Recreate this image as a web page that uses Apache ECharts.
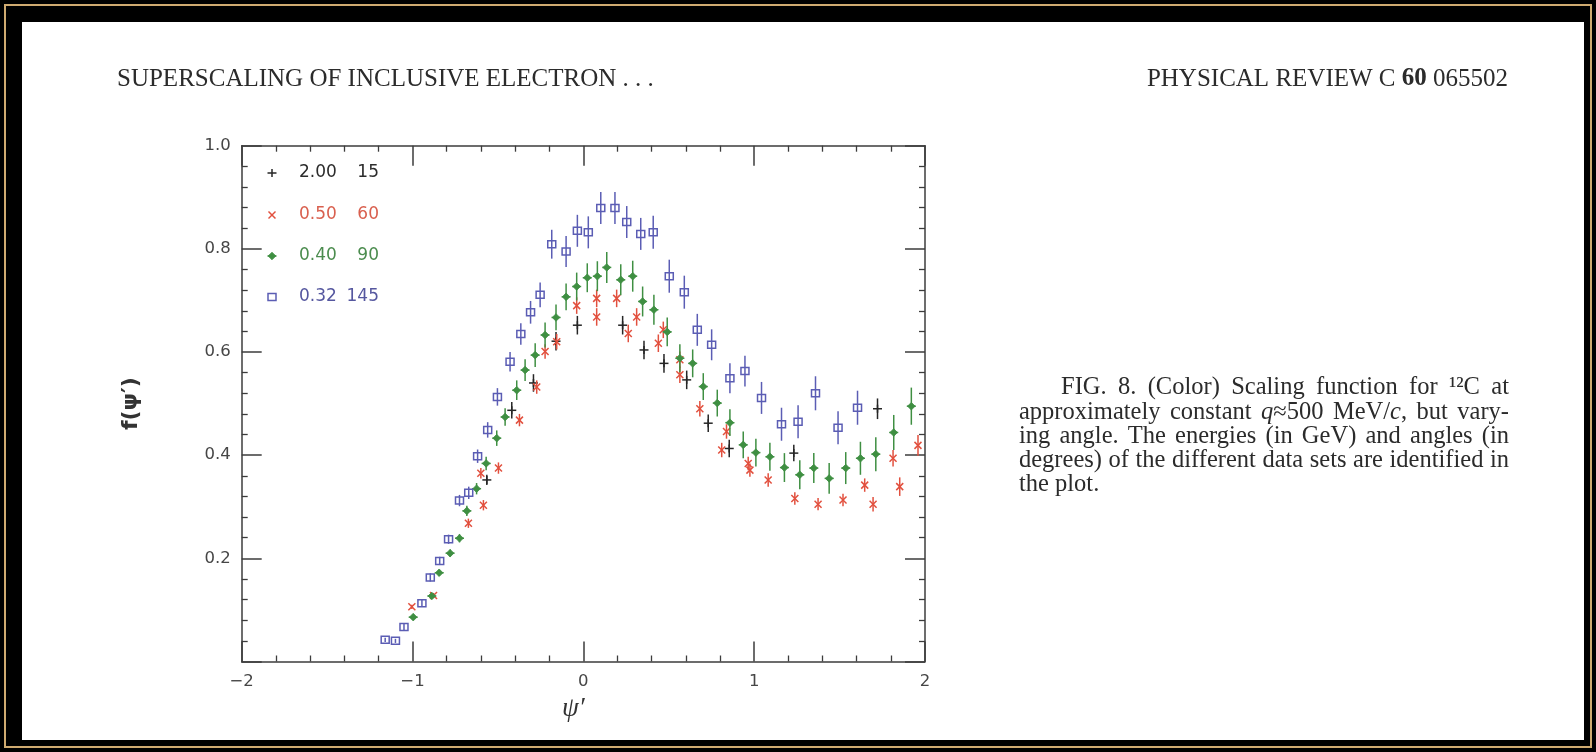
<!DOCTYPE html>
<html>
<head>
<meta charset="utf-8">
<script src="https://cdn.jsdelivr.net/npm/echarts@6/dist/echarts.min.js"></script>
<style>
  html, body { margin: 0; padding: 0; background: #000; }
  #chart { width: 1596px; height: 752px; }
</style>
</head>
<body>
<div id="chart"></div>
<script>
// ---- data sets: psi' (x), f(psi') (y), error half-width (err) ----
// 2.00 GeV, 15 deg
const blackX = [-0.565, -0.419, -0.292, -0.160, -0.035, 0.230, 0.355, 0.472, 0.605, 0.731, 0.854, 1.232, 1.722];
const blackY = [0.352, 0.487, 0.540, 0.621, 0.652, 0.652, 0.604, 0.578, 0.546, 0.462, 0.413, 0.404, 0.490];
const blackErr = [0.010, 0.016, 0.017, 0.018, 0.018, 0.018, 0.018, 0.018, 0.018, 0.017, 0.017, 0.016, 0.020];

// 0.50 GeV, 60 deg
const redX = [-1.004, -0.877, -0.673, -0.600, -0.585, -0.497, -0.374, -0.273, -0.224, -0.156,
              -0.039, 0.078, 0.078, 0.195, 0.263, 0.312, 0.439, 0.468, 0.565, 0.565,
              0.682, 0.810, 0.838, 0.965, 0.975, 1.082, 1.238, 1.374, 1.520, 1.647,
              1.696, 1.813, 1.852, 1.959];
const redY = [0.106, 0.128, 0.268, 0.365, 0.303, 0.375, 0.468, 0.532, 0.601, 0.620,
              0.690, 0.704, 0.668, 0.704, 0.636, 0.668, 0.617, 0.643, 0.585, 0.556,
              0.490, 0.410, 0.446, 0.384, 0.371, 0.352, 0.316, 0.305, 0.313, 0.342,
              0.305, 0.394, 0.339, 0.419];
const redErr = [0.004, 0.005, 0.009, 0.010, 0.010, 0.011, 0.012, 0.013, 0.014, 0.015,
                0.016, 0.017, 0.017, 0.017, 0.017, 0.017, 0.017, 0.016, 0.016, 0.016,
                0.015, 0.014, 0.014, 0.013, 0.013, 0.013, 0.012, 0.012, 0.012, 0.013,
                0.014, 0.016, 0.018, 0.020];

// 0.40 GeV, 90 deg
const greenX = [-0.996, -0.887, -0.844, -0.780, -0.725, -0.682, -0.625, -0.569, -0.507, -0.458,
                -0.390, -0.341, -0.282, -0.224, -0.160, -0.101, -0.039, 0.023, 0.082, 0.137,
                0.219, 0.289, 0.347, 0.413, 0.491, 0.565, 0.640, 0.702, 0.784, 0.858,
                0.936, 1.010, 1.092, 1.177, 1.267, 1.349, 1.439, 1.536, 1.622, 1.712,
                1.817, 1.920];
const greenY = [0.086, 0.127, 0.172, 0.210, 0.239, 0.292, 0.335, 0.384, 0.433, 0.474,
                0.526, 0.565, 0.594, 0.633, 0.667, 0.707, 0.727, 0.744, 0.747, 0.764,
                0.740, 0.747, 0.698, 0.682, 0.639, 0.588, 0.578, 0.533, 0.501, 0.463,
                0.420, 0.405, 0.397, 0.376, 0.362, 0.375, 0.355, 0.375, 0.394, 0.402,
                0.444, 0.495];
const greenErr = [0.004, 0.005, 0.006, 0.007, 0.008, 0.010, 0.011, 0.013, 0.015, 0.017,
                  0.019, 0.021, 0.023, 0.024, 0.025, 0.026, 0.027, 0.028, 0.029, 0.030,
                  0.030, 0.030, 0.029, 0.029, 0.028, 0.027, 0.027, 0.026, 0.026, 0.026,
                  0.026, 0.027, 0.027, 0.028, 0.028, 0.029, 0.030, 0.031, 0.032, 0.033,
                  0.034, 0.036];

// 0.32 GeV, 145 deg
const blueX = [-1.160, -1.100, -1.050, -0.945, -0.896, -0.841, -0.789, -0.725, -0.671, -0.619,
               -0.560, -0.503, -0.429, -0.366, -0.309, -0.253, -0.185, -0.101, -0.035, 0.029,
               0.102, 0.185, 0.254, 0.336, 0.409, 0.503, 0.591, 0.667, 0.751, 0.858,
               0.946, 1.043, 1.160, 1.257, 1.359, 1.491, 1.605];
const blueY = [0.042, 0.040, 0.067, 0.113, 0.163, 0.195, 0.237, 0.312, 0.327, 0.398,
               0.449, 0.513, 0.581, 0.635, 0.677, 0.711, 0.809, 0.795, 0.835, 0.832,
               0.879, 0.879, 0.852, 0.829, 0.832, 0.747, 0.716, 0.643, 0.614, 0.549,
               0.563, 0.511, 0.460, 0.465, 0.520, 0.453, 0.492];
const blueErr = [0.004, 0.004, 0.006, 0.007, 0.008, 0.008, 0.009, 0.011, 0.012, 0.013,
                 0.015, 0.017, 0.019, 0.021, 0.022, 0.024, 0.028, 0.030, 0.031, 0.031,
                 0.031, 0.031, 0.031, 0.031, 0.032, 0.032, 0.032, 0.031, 0.030, 0.029,
                 0.030, 0.031, 0.032, 0.032, 0.033, 0.032, 0.033];

// legend columns: beam energy (GeV) and scattering angle (deg)
const legendEnergies = ['2.00', '0.50', '0.40', '0.32'];
const legendAngles = ['15', '60', '90', '145'];

// tick labels
const xTickLabels = { '-2': '\u22122', '-1': '\u22121', '0': '0', '1': '1', '2': '2' };
const yTickLabels = { '0.2': '0.2', '0.4': '0.4', '0.6': '0.6', '0.8': '0.8', '1': '1.0' };

// ---- styling ----
const COLORS = ['#262626', '#e2503e', '#3f8f42', '#5b5db4'];
const LEGEND_TEXT = ['#2c2c2c', '#d9604f', '#4b8c4e', '#55579f'];
const SHAPES = ['plus', 'cross', 'diamond', 'square'];
const AXIS_COLOR = '#3c3c3c';
const LW = 1.5;

function markerElements(shape, cx, cy, color) {
  const s = { stroke: color, lineWidth: LW, fill: null };
  if (shape === 'plus') {
    return [{ type: 'line', shape: { x1: cx - 4.5, y1: cy, x2: cx + 4.5, y2: cy }, style: s },
            { type: 'line', shape: { x1: cx, y1: cy - 4, x2: cx, y2: cy + 4 }, style: s }];
  }
  if (shape === 'cross') {
    return [{ type: 'line', shape: { x1: cx - 3.5, y1: cy - 3.5, x2: cx + 3.5, y2: cy + 3.5 }, style: s },
            { type: 'line', shape: { x1: cx - 3.5, y1: cy + 3.5, x2: cx + 3.5, y2: cy - 3.5 }, style: s }];
  }
  if (shape === 'diamond') {
    return [{ type: 'polygon', shape: { points: [[cx, cy - 3.8], [cx + 3.8, cy], [cx, cy + 3.8], [cx - 3.8, cy]] },
              style: { fill: color, stroke: color, lineWidth: 0.8 } },
            { type: 'line', shape: { x1: cx - 4.5, y1: cy, x2: cx + 4.5, y2: cy }, style: s }];
  }
  return [{ type: 'rect', shape: { x: cx - 4, y: cy - 3.5, width: 8, height: 7 }, style: s }];
}

function errorSeries(name, xs, ys, errs, idx) {
  const color = COLORS[idx], shape = SHAPES[idx];
  return {
    type: 'custom',
    name: name,
    xAxisIndex: 0,
    yAxisIndex: 0,
    z: 3 + idx,
    dimensions: ['x', 'y', 'err'],
    encode: { x: 0, y: 1 },
    data: xs.map((x, i) => [x, ys[i], errs[i]]),
    renderItem: function (params, api) {
      const x = api.value(0), y = api.value(1), e = api.value(2);
      const c = api.coord([x, y]);
      const top = api.coord([x, y + e]);
      const bot = api.coord([x, y - e]);
      const children = [{
        type: 'line',
        shape: { x1: c[0], y1: top[1], x2: c[0], y2: bot[1] },
        style: { stroke: color, lineWidth: LW }
      }].concat(markerElements(shape, c[0], c[1], color));
      return { type: 'group', children: children };
    }
  };
}

// ---- page texts ----
const SERIF = '"Liberation Serif", "Times New Roman", serif';
const TEXT_COLOR = '#2b2b2b';
const HEAD_SIZE = 25;
const CAP_SIZE = 24.5;
const CAP_LEFT = 1019, CAP_RIGHT = 1509, CAP_INDENT = 42;
const CAP_ROWS = [388, 412.5, 437, 461, 485];
const captionLines = [
  ['FIG.', '8.', '(Color)', 'Scaling', 'function', 'for', '\u00b9\u00b2C', 'at'],
  ['approximately', 'constant', '{i|q}\u2248500', 'MeV/{i|c},', 'but', 'vary-'],
  ['ing', 'angle.', 'The', 'energies', '(in', 'GeV)', 'and', 'angles', '(in'],
  ['degrees)', 'of', 'the', 'different', 'data', 'sets', 'are', 'identified', 'in'],
  ['the', 'plot.']
];

const measureCtx = document.createElement('canvas').getContext('2d');
function wordWidth(word) {
  let w = 0;
  word.split(/(\{i\|[^}]*\})/).forEach(p => {
    if (!p) return;
    const m = p.match(/^\{i\|([^}]*)\}$/);
    measureCtx.font = (m ? 'italic ' : '') + CAP_SIZE + 'px ' + SERIF;
    w += measureCtx.measureText(m ? m[1] : p).width;
  });
  return w;
}

// justified caption: words spread between the column edges, last line ragged
function captionGraphics() {
  const out = [];
  measureCtx.font = CAP_SIZE + 'px ' + SERIF;
  const spaceW = measureCtx.measureText(' ').width;
  captionLines.forEach((words, li) => {
    const left = CAP_LEFT + (li === 0 ? CAP_INDENT : 0);
    const widths = words.map(wordWidth);
    const total = widths.reduce((a, b) => a + b, 0);
    const last = li === captionLines.length - 1;
    const gap = last ? spaceW : (CAP_RIGHT - left - total) / (words.length - 1);
    let x = left;
    words.forEach((w, wi) => {
      out.push({
        type: 'text', x: x, y: CAP_ROWS[li], z: 10,
        style: {
          text: w, fill: TEXT_COLOR, font: CAP_SIZE + 'px ' + SERIF,
          align: 'left', verticalAlign: 'middle',
          rich: { i: { fontStyle: 'italic', fontSize: CAP_SIZE, fontFamily: SERIF, fill: TEXT_COLOR } }
        }
      });
      x += widths[wi] + gap;
    });
  });
  return out;
}

function legendGraphics() {
  const out = [];
  const rowY = [173, 215, 256, 297];
  legendEnergies.forEach((en, i) => {
    markerElements(SHAPES[i], 272, rowY[i], COLORS[i]).forEach(el => { el.z = 10; out.push(el); });
    out.push({ type: 'text', x: 299, y: rowY[i], z: 10,
      style: { text: en, fill: LEGEND_TEXT[i], font: '17px "DejaVu Sans"', align: 'left', verticalAlign: 'middle' } });
    out.push({ type: 'text', x: 379, y: rowY[i], z: 10,
      style: { text: legendAngles[i], fill: LEGEND_TEXT[i], font: '17px "DejaVu Sans"', align: 'right', verticalAlign: 'middle' } });
  });
  return out;
}

const axisCommon = {
  type: 'value',
  axisLine: { show: true, onZero: false, lineStyle: { color: AXIS_COLOR, width: 1.5 } },
  axisTick: { show: true, inside: true, length: 20, lineStyle: { color: AXIS_COLOR, width: 1.5 } },
  minorTick: { show: true, splitNumber: 5, length: 6, lineStyle: { color: AXIS_COLOR, width: 1.3 } },
  splitLine: { show: false },
  minorSplitLine: { show: false }
};

const tickFont = { fontFamily: '"DejaVu Sans"', fontSize: 16.5, color: '#464646' };

const option = {
  backgroundColor: '#000',
  animation: false,
  grid: { left: 241.7, top: 145.7, width: 683.3, height: 515.8, containLabel: false },
  xAxis: [
    Object.assign({}, axisCommon, {
      min: -2, max: 2, interval: 1, position: 'bottom',
      axisLabel: Object.assign({ margin: 12, formatter: v => xTickLabels[String(v)] }, tickFont),
      name: '\u03c8\u2032', nameLocation: 'middle', nameGap: 21,
      nameTextStyle: { fontFamily: SERIF, fontStyle: 'italic', fontSize: 27, color: '#333', padding: [0, 20, 0, 0] }
    }),
    Object.assign({}, axisCommon, {
      min: -2, max: 2, interval: 1, position: 'top', axisLabel: { show: false }
    })
  ],
  yAxis: [
    Object.assign({}, axisCommon, {
      min: 0, max: 1, interval: 0.2, position: 'left',
      axisLabel: Object.assign({ margin: 11, formatter: v => yTickLabels[String(+v.toFixed(1))] || '' }, tickFont),
      name: 'f(\u03c8\u2032)', nameLocation: 'middle', nameGap: 99, nameRotate: 90,
      nameTextStyle: { fontFamily: '"DejaVu Sans"', fontWeight: 'bold', fontSize: 22, color: '#333' }
    }),
    Object.assign({}, axisCommon, {
      min: 0, max: 1, interval: 0.2, position: 'right', axisLabel: { show: false }
    })
  ],
  series: [
    errorSeries('0.32 145', blueX, blueY, blueErr, 3),
    errorSeries('0.40 90', greenX, greenY, greenErr, 2),
    errorSeries('0.50 60', redX, redY, redErr, 1),
    errorSeries('2.00 15', blackX, blackY, blackErr, 0)
  ],
  graphic: [
    { type: 'rect', z: -10, shape: { x: 5, y: 5, width: 1586, height: 742 },
      style: { fill: null, stroke: '#cfaa70', lineWidth: 2 } },
    { type: 'rect', z: -9, shape: { x: 22, y: 22, width: 1562, height: 718 },
      style: { fill: '#ffffff', stroke: null } },
    { type: 'text', x: 117, y: 79, z: 10,
      style: { text: 'SUPERSCALING OF INCLUSIVE ELECTRON . . .', fill: TEXT_COLOR,
               font: HEAD_SIZE + 'px ' + SERIF, align: 'left', verticalAlign: 'middle' } },
    { type: 'text', x: 1508, y: 79, z: 10,
      style: { text: '{n|PHYSICAL REVIEW C }{b|60}{n| 065502}', fill: TEXT_COLOR,
               font: HEAD_SIZE + 'px ' + SERIF, align: 'right', verticalAlign: 'middle',
               rich: { n: { fontSize: HEAD_SIZE, fontFamily: SERIF, fill: TEXT_COLOR },
                       b: { fontSize: HEAD_SIZE, fontFamily: SERIF, fontWeight: 'bold', fill: TEXT_COLOR } } } }
  ].concat(legendGraphics(), captionGraphics())
};

const chart = echarts.init(document.getElementById('chart'), null, { renderer: 'canvas', width: 1596, height: 752 });
chart.setOption(option);
</script>
</body>
</html>
